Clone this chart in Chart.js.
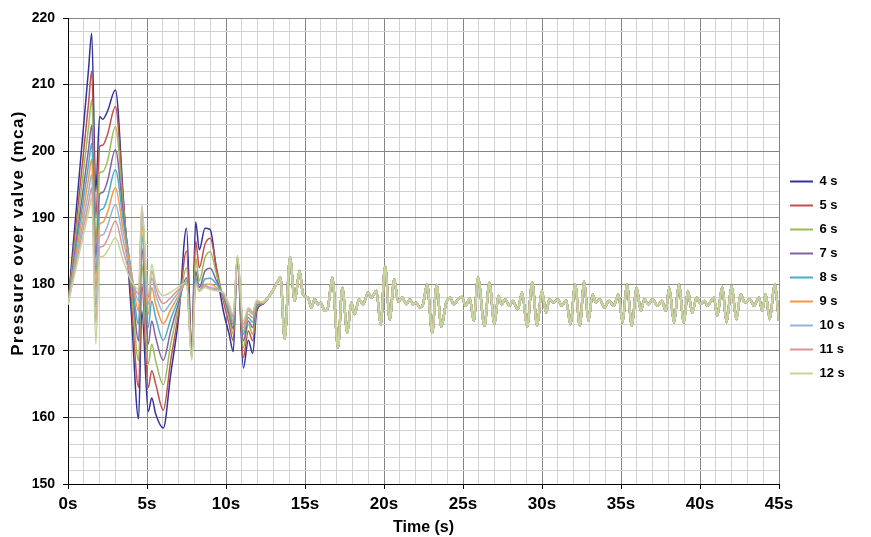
<!DOCTYPE html>
<html><head><meta charset="utf-8">
<script src="https://cdn.jsdelivr.net/npm/chart.js@4.4.1/dist/chart.umd.min.js"></script>
<style>html,body{margin:0;padding:0;background:#fff}</style>
</head><body>
<canvas id="c" width="871" height="537"></canvas>
<script>
// ---- data ----
const seriesNames = ['4 s','5 s','6 s','7 s','8 s','9 s','10 s','11 s','12 s'];
const seriesColors = ['#333399','#C0504D','#9BBB59','#8064A2','#4BACC6','#F79646','#95B3D7','#D99694','#C3D69B'];
const xTitle = 'Time (s)';
const yTitle = 'Pressure over valve (mca)';

// transient part (time in s), one value array per closing time
const tEarly = [0,1.3,1.5,1.76,2.0,2.2,2.5,3.0,3.5,4.0,4.47,4.67,5.08,5.3,5.55,6.03,6.5,7.0,7.5,7.83,8.08,8.31,8.67,9.0,9.4,9.83,10.2,10.46,10.72,11.1,11.41,11.69,11.94,12.3];
const v4s  = [177,212.3,217.7,194,205.2,204.8,206,209.2,193,176,159.8,176,160.9,162.9,160.5,158.4,166.5,175,188.4,170.6,189.4,185.2,188.4,188.2,182,176,172.5,169.9,183.9,167.4,171.6,169.6,175.9,177];
const v5s  = [177,207.2,212,190,200.7,200.9,202.5,206.7,192.5,178,164.5,180,164.5,167,165,161.1,168.5,175.8,185,170.3,186.5,182.5,186,186.9,182.5,177.5,174,171.5,184,169,173,171.5,176.3,177];
const v6s  = [177,203.6,207.7,186.5,196.7,196.9,198.5,203.7,191.5,180,168.5,183,168,171,168.5,164.9,171,176.6,182.5,170,184,180.5,184,184.9,181.5,178,175,172.5,184,170.5,174,172.5,176.6,177.1];
const v7s  = [177,200.3,203.9,184,193.5,193.8,195.5,200.2,190.5,181.5,171.5,185.5,171,174.5,172,168.6,173,177.2,181,169.8,182,179.5,182,182.4,180.5,178.3,175.5,173.3,184.1,171.5,174.5,173.5,176.8,177.1];
const v8s  = [177,198,201.2,181.5,191,191.3,193,197.2,189.5,182,174,187.5,173.5,177.5,175,171.6,174.8,177.8,180.5,169.5,181,179,180.8,180.9,180,178.5,176,174,184.1,172.5,175,174.3,177,177.2];
const v9s  = [177,195.9,198.8,179,189,189.3,190.8,194.5,188,182,176,189,175.5,179.5,177,174.1,176.2,178.3,180.3,169.3,180.5,179,180,180,179.5,178.5,176.3,174.5,184.2,173,175.5,175,177.2,177.2];
const v10s = [177,193.9,196.5,176.5,187.2,187.4,188.8,192,186.5,181.5,177.5,190.5,177,181,178.5,175.9,177.2,178.8,180.2,169,180.3,179,179.8,179.5,179.3,178.6,176.5,175,184.2,173.5,176,175.5,177.4,177.3];
const v11s = [177,192.2,194.5,174,185.5,185.7,186.8,189.5,185,181,178.5,191.5,178,182,179.5,177.1,178,179.2,180.2,168.8,180.2,179,179.6,179.3,179.2,178.7,176.8,175.3,184.3,174,176.3,175.8,177.5,177.3];
const v12s = [177,190.9,193,171,184,184.2,185,187,183.5,180.5,179.3,192,178.5,183,180.2,178.3,178.8,179.6,180.3,168.6,180,179,179.5,179.2,179,178.8,177,175.5,184.3,174.5,176.5,176,177.6,177.3];

// steady oscillation after ~12 s (all curves almost coincide)
const tTail = [12.6,12.95,13.25,13.45,13.71,14.05,14.35,14.66,14.87,15.19,15.4,15.61,15.82,16.0,16.25,16.45,16.73,17.09,17.36,17.68,17.93,18.14,18.42,18.67,18.99,19.2,19.52,19.79,20.07,20.36,20.65,20.89,21.16,21.42,21.63,21.84,22.05,22.26,22.47,22.73,23.05,23.33,23.63,23.92,24.18,24.41,24.69,24.93,25.17,25.43,25.68,25.95,26.36,26.67,26.99,27.24,27.45,27.67,27.94,28.15,28.47,28.74,29.06,29.38,29.69,29.99,30.26,30.47,30.75,31.0,31.25,31.53,31.8,32.1,32.39,32.67,32.94,33.2,33.41,33.66,33.94,34.25,34.53,34.84,35.1,35.37,35.69,35.98,36.26,36.47,36.74,37.0,37.31,37.59,37.84,38.05,38.36,38.66,38.98,39.23,39.51,39.78,40.04,40.29,40.46,40.71,40.88,41.09,41.41,41.68,42.0,42.3,42.57,42.84,43.16,43.41,43.73,43.94,44.15,44.42,44.72,45.0];
const vTail = [177.8,179,180.3,181,171.8,184,177.5,182,178.5,178,176.5,177.75,177,177.2,176,176.5,181,170.5,179.5,172.75,177.25,175.5,177.75,177,178.75,178,179,173.9,182.75,174.7,180.75,177.4,178,177,177.75,177,177.25,176.5,177,180,172.7,179.9,173.6,177.1,178,177,177.75,178.1,176.75,177.9,174.5,181,173.75,180.25,174,178.25,177,177.75,176.75,177.5,176.25,178.75,173.6,180.25,173.75,179,175.75,177.75,177.25,177.75,176.75,177.6,174,180,173.75,180.4,174.5,178.5,177.25,177.75,176.5,177.5,176.75,178.5,174.25,180,173.75,179.5,176,177.75,177,177.75,176.75,177.5,176,179.5,174.25,180,174.25,179,175.75,178,177,177.5,176.75,177.5,178,175.25,179.6,174.25,179.75,174.75,178.5,177.25,177.75,176.75,178,176,178.5,174.75,180,174.5];

const earlyValues = [v4s,v5s,v6s,v7s,v8s,v9s,v10s,v11s,v12s];

const xMin = 0, xMax = 45, xMajor = 5;
const yMin = 150, yMax = 220, yMajor = 10;

// ---- build chart ----
const FONT = '"Liberation Sans", Arial, sans-serif';
const tailStart = tEarly[tEarly.length - 1];
const datasets = seriesNames.map((name, i) => ({
  label: name,
  data: tEarly.map((t, k) => ({x: t, y: earlyValues[i][k]}))
        .concat(tTail.map((t, k) => ({x: t, y: vTail[k]}))),
  borderColor: seriesColors[i],
  backgroundColor: seriesColors[i],
  borderWidth: 1.5,
  segment: { borderWidth: (c) => c.p0.parsed.x >= tailStart ? 2.2 : 1.5 },
  pointRadius: 0,
  cubicInterpolationMode: 'monotone',
  order: seriesNames.length - 1 - i
}));

const isMajor = (v, step) => Math.abs(v / step - Math.round(v / step)) < 1e-6;

// y-axis title drawn with the wider letter spacing of the original
const yTitlePlugin = {
  id: 'yTitle',
  afterDraw(chart) {
    const ctx = chart.ctx;
    ctx.save();
    ctx.font = 'bold 17px ' + FONT;
    ctx.fillStyle = '#000';
    try { ctx.letterSpacing = '1.4px'; } catch (e) {}
    ctx.textAlign = 'center';
    ctx.textBaseline = 'middle';
    ctx.translate(18, 233);
    ctx.rotate(-Math.PI / 2);
    ctx.fillText(yTitle, 0, 0);
    ctx.restore();
  }
};

new Chart(document.getElementById('c'), {
  type: 'line',
  data: { datasets },
  plugins: [yTitlePlugin],
  options: {
    responsive: false,
    animation: false,
    events: [],
    layout: { padding: { left: 4, top: 18, right: 2.2, bottom: 0 } },
    plugins: {
      tooltip: { enabled: false },
      legend: {
        position: 'right',
        labels: {
          boxWidth: 23,
          boxHeight: 2,
          padding: 11,
          color: '#000',
          font: { family: FONT, size: 13, weight: 'bold' },
          sort: (a, b) => a.datasetIndex - b.datasetIndex,
          generateLabels: (chart) => Chart.defaults.plugins.legend.labels.generateLabels(chart)
            .map(l => Object.assign(l, { lineWidth: 0, fillStyle: seriesColors[l.datasetIndex] }))
        }
      }
    },
    scales: {
      x: {
        type: 'linear', min: xMin, max: xMax,
        afterFit: (s) => { s.height = 53; s.paddingRight = 92; },
        ticks: {
          stepSize: 1, autoSkip: false, maxRotation: 0, padding: 5, color: '#000',
          font: { family: FONT, size: 17, weight: 'bold' },
          callback: (v) => isMajor(v, xMajor) ? v + 's' : ''
        },
        grid: {
          color: (c) => (c.tick && isMajor(c.tick.value, xMajor)) ? '#868686' : '#d2d2d2',
          lineWidth: 1, tickLength: 5,
          tickColor: (c) => (c.tick && isMajor(c.tick.value, xMajor)) ? '#000' : 'rgba(0,0,0,0)'
        },
        border: { color: '#000', width: 1 },
        title: { display: true, text: xTitle, color: '#000',
          font: { family: FONT, size: 16, weight: 'bold' }, padding: { top: 0, bottom: 0 } }
      },
      y: {
        min: yMin, max: yMax,
        afterFit: (s) => { s.width = 64; },
        ticks: {
          stepSize: 2, autoSkip: false, padding: 8, color: '#000',
          font: { family: FONT, size: 14, weight: 'bold' },
          callback: (v) => isMajor(v, yMajor) ? v : ''
        },
        grid: {
          color: (c) => (c.tick && isMajor(c.tick.value, yMajor)) ? '#868686' : '#d2d2d2',
          lineWidth: 1, tickLength: 5,
          tickColor: (c) => (c.tick && isMajor(c.tick.value, yMajor)) ? '#000' : 'rgba(0,0,0,0)'
        },
        border: { color: '#000', width: 1 },
        title: { display: false }
      }
    }
  }
});
</script>
</body></html>
